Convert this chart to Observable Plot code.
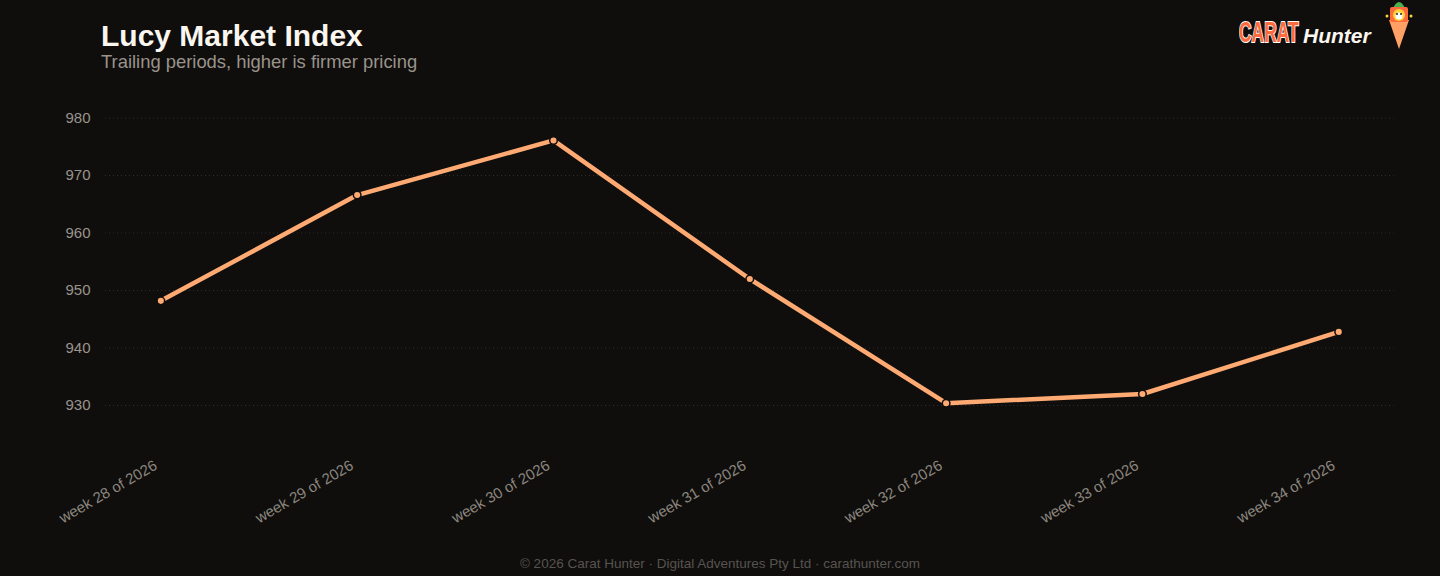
<!DOCTYPE html>
<html><head><meta charset="utf-8">
<script src="https://cdn.jsdelivr.net/npm/d3@7"></script>
<script src="https://cdn.jsdelivr.net/npm/@observablehq/plot@0.6"></script>
<style>
html,body{margin:0;padding:0;background:#0f0e0d;width:1440px;height:576px;overflow:hidden;font-family:"Liberation Sans",Arial,sans-serif;}
#wrap{position:relative;width:1440px;height:576px;}
#title{position:absolute;left:101px;top:21px;font-size:30px;font-weight:bold;color:#fbf6ef;line-height:1;}
#subtitle{position:absolute;left:101px;top:53px;font-size:18.4px;color:#9a938a;line-height:1;}
#chart{position:absolute;left:0;top:85px;}
#footer{position:absolute;left:0;width:1440px;top:557px;text-align:center;font-size:13.5px;color:#57534f;line-height:1;}
#logo{position:absolute;left:1238px;top:0;width:200px;height:55px;}
#carat{position:absolute;left:1px;top:18px;font-weight:bold;font-size:29px;color:#ff6a3d;-webkit-text-stroke:2px #fff;paint-order:stroke fill;line-height:1;transform:scaleX(0.6);transform-origin:0 0;white-space:nowrap;}
#hunter{position:absolute;left:65px;top:25px;font-style:italic;font-weight:bold;font-size:21px;color:#fbf6ef;line-height:1;white-space:nowrap;}
#mascot{position:absolute;left:146px;top:0;}
</style>
</head><body>
<div id="wrap">
  <div id="title">Lucy Market Index</div>
  <div id="subtitle">Trailing periods, higher is firmer pricing</div>
  <div id="logo">
    <div id="carat">CARAT</div>
    <div id="hunter">Hunter</div>
    <svg id="mascot" width="30" height="52" viewBox="0 0 30 52">
      <path d="M9 8 Q15 -4 21 8 Z" fill="#4caf50"/>
      <path d="M5 20 L25 20 L15 49 Z" fill="#ffa066"/>
      <rect x="6" y="7" width="18" height="15" rx="2" fill="#ff6a3d"/>
      <circle cx="15" cy="15" r="6" fill="#ffd23a"/>
      <circle cx="15" cy="16" r="3.5" fill="#fff"/>
      <circle cx="13" cy="14" r="1" fill="#222"/>
      <circle cx="17" cy="14" r="1" fill="#222"/>
      <circle cx="3" cy="16" r="1.5" fill="#ffd23a"/>
      <circle cx="27" cy="16" r="1.5" fill="#ffd23a"/>
    </svg>
  </div>
  <div id="chart"></div>
  <div id="footer">© 2026 Carat Hunter · Digital Adventures Pty Ltd · carathunter.com</div>
</div>
<script>
const weeks = ["week 28 of 2026","week 29 of 2026","week 30 of 2026","week 31 of 2026","week 32 of 2026","week 33 of 2026","week 34 of 2026"];
const indexValues = [948.2, 966.6, 976.1, 952.0, 930.4, 932.0, 942.8];
const yTicks = [930, 940, 950, 960, 970, 980];

const data = weeks.map((w, i) => ({week: w, value: indexValues[i]}));

const chart = Plot.plot({
  width: 1440,
  height: 455,
  marginLeft: 105,
  marginRight: 46.4,
  marginTop: 32.5,
  marginBottom: 106.25,
  style: {background: "transparent", fontFamily: "'Liberation Sans', Arial, sans-serif", color: "#9a948c"},
  x: {type: "point", domain: weeks, padding: 0.282, round: false, label: null},
  y: {domain: [925, 980], label: null},
  marks: [
    Plot.gridY(yTicks, {stroke: "#302d2a", strokeOpacity: 1, strokeDasharray: "1,3"}),
    Plot.axisY(yTicks, {tickSize: 0, tickPadding: 15, fontSize: 15, fill: "#9a948c", label: null}),
    Plot.axisX({tickSize: 0, tickPadding: 30, tickRotate: -30, fontSize: 15, dx: -5, fill: "#8c867e", label: null}),
    Plot.line(data, {x: "week", y: "value", stroke: "#ffaa72", strokeWidth: 4.5, strokeLinejoin: "round"}),
    Plot.dot(data, {x: "week", y: "value", r: 3.8, fill: "#ffaa72", stroke: "#0f0e0d", strokeWidth: 1.5})
  ]
});
document.getElementById("chart").appendChild(chart);
</script>
</body></html>
